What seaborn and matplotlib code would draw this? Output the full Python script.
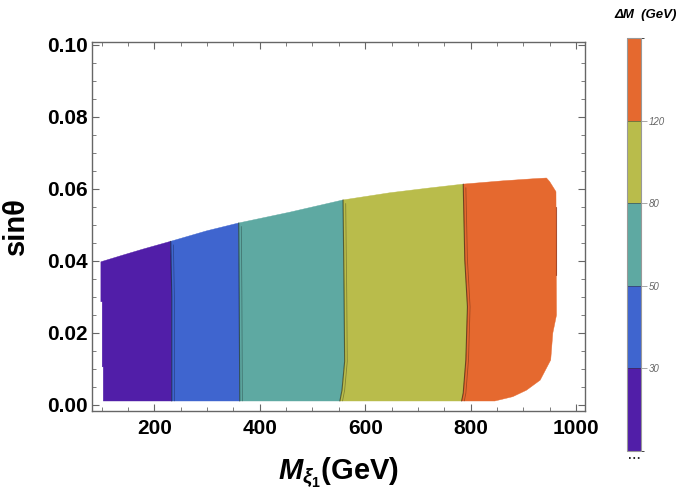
import seaborn as sns
import matplotlib.pyplot as plt
from matplotlib.colors import ListedColormap, BoundaryNorm
from matplotlib.cm import ScalarMappable
from matplotlib.ticker import MultipleLocator, FormatStrFormatter
from matplotlib.lines import Line2D

# contour levels of Delta M (GeV) and band colours
dm_ticks = [30, 50, 80, 120]
dm_levels = [0, 30, 50, 80, 120, 160]
band_colors = ['#511ea8', '#3f65cf', '#5ea9a2', '#b9bc4b', '#e5692f']

# outline of the allowed region
bottom_y = 0.001
left_x = [103, 103, 101, 101, 98.5, 98.5]
left_y = [0.001, 0.0105, 0.0105, 0.0286, 0.0286, 0.0397]
top_x = [98.5, 141, 180, 231, 299, 360, 457, 558, 647, 720, 786, 860, 920, 944]
top_y = [0.0397, 0.0416, 0.0433, 0.0454, 0.0483, 0.0505, 0.0535, 0.0569, 0.0589,
         0.0602, 0.0613, 0.0622, 0.0628, 0.0630]
right_x = [944, 950, 962, 963, 956, 952, 932, 906, 880, 846]
right_y = [0.0630, 0.0620, 0.0592, 0.0249, 0.0199, 0.0124, 0.0068, 0.0040, 0.0022, 0.001]

# contour lines between the bands (bottom -> top)
b30_x = [233, 233, 231]
b30_y = [0.001, 0.030, 0.0454]
b50_x = [362, 361, 360]
b50_y = [0.001, 0.030, 0.0505]
b80_x = [552, 556, 561, 560, 558]
b80_y = [0.001, 0.004, 0.012, 0.030, 0.0569]
b120_x = [783, 786, 791, 794, 789, 786]
b120_y = [0.001, 0.0032, 0.0124, 0.0272, 0.0402, 0.0613]

sns.set_style("ticks")
plt.rcParams['font.family'] = ['Liberation Sans', 'DejaVu Sans']
plt.rcParams['text.color'] = 'black'
plt.rcParams['axes.labelcolor'] = 'black'
plt.rcParams['xtick.labelcolor'] = 'black'
plt.rcParams['ytick.labelcolor'] = 'black'
plt.rcParams['mathtext.fontset'] = 'custom'
plt.rcParams['mathtext.rm'] = 'Liberation Sans:bold'
plt.rcParams['mathtext.it'] = 'Liberation Sans:italic:bold'
plt.rcParams['mathtext.bf'] = 'Liberation Sans:bold'


def band_polygon(lx, ly, rx, ry):
    # left edge up, along the top curve, right edge down
    lo, hi = lx[-1], rx[-1]
    tx = [x for x in top_x if lo < x < hi]
    ty = [y for x, y in zip(top_x, top_y) if lo < x < hi]
    return list(lx) + tx + list(rx[::-1]), list(ly) + ty + list(ry[::-1])


fig = plt.figure(figsize=(6.79, 4.94), dpi=100)
ax = fig.add_axes([0.135, 0.1686, 0.7265, 0.747])

edges = [(left_x, left_y), (b30_x, b30_y), (b50_x, b50_y), (b80_x, b80_y),
         (b120_x, b120_y), (right_x[::-1], right_y[::-1])]
for i, col in enumerate(band_colors):
    xs, ys = band_polygon(edges[i][0], edges[i][1], edges[i + 1][0], edges[i + 1][1])
    ax.fill(xs, ys, color=col, lw=0.3, ec=col)

# thin dark contour lines
for bx, by in edges[1:5]:
    sns.lineplot(x=bx, y=by, sort=False, estimator=None, color='k', lw=0.8, alpha=0.5, ax=ax)
    sns.lineplot(x=[v + 5 for v in bx], y=by[:-1] + [by[-1] - 0.001], sort=False,
                 estimator=None, color='k', lw=0.6, alpha=0.3, ax=ax)
sns.lineplot(x=[963, 963], y=[0.055, 0.036], sort=False, estimator=None,
             color='#8b2000', lw=0.8, alpha=0.7, ax=ax)

ax.set_xlim(81, 1017)
ax.set_ylim(-0.0017, 0.1009)
ax.xaxis.set_major_locator(MultipleLocator(200))
ax.xaxis.set_minor_locator(MultipleLocator(50))
ax.yaxis.set_major_locator(MultipleLocator(0.02))
ax.yaxis.set_minor_locator(MultipleLocator(0.005))
ax.yaxis.set_major_formatter(FormatStrFormatter('%.2f'))
ax.tick_params(which='both', direction='in', top=True, right=True, color='#666')
ax.tick_params(which='major', length=5, width=0.8, labelsize=15, labelcolor='black')
ax.tick_params(which='minor', length=3, width=0.6)
ax.tick_params(axis='x', pad=6)
ax.tick_params(axis='y', pad=3)
for lab in ax.get_xticklabels() + ax.get_yticklabels():
    lab.set_fontweight('bold')
for sp in ax.spines.values():
    sp.set_color('#666')
    sp.set_linewidth(1.0)

ax.set_xlabel(r'$M_{\xi_1}$(GeV)', fontsize=21, fontweight='bold', labelpad=13)
ax.set_ylabel('sinθ', fontsize=21, fontweight='bold', labelpad=12)

# legend bar
cax = fig.add_axes([0.9239, 0.087, 0.0197, 0.8354])
cmap = ListedColormap(band_colors)
norm = BoundaryNorm(dm_levels, cmap.N)
cb = fig.colorbar(ScalarMappable(norm=norm, cmap=cmap), cax=cax, ticks=dm_ticks,
                  spacing='uniform', drawedges=True)
cb.outline.set_edgecolor('#999')
cb.outline.set_linewidth(0.8)
cb.dividers.set_color('#333')
cb.dividers.set_linewidth(0.6)
cb.dividers.set_alpha(0.6)
cax.tick_params(labelsize=7, colors='#999', length=4, width=0.6, direction='out', pad=2)
for lab in cax.get_yticklabels():
    lab.set_fontstyle('italic')
    lab.set_color('#666')
fig.text(0.951, 0.969, 'ΔM  (GeV)', ha='center', va='center', fontsize=9.5,
         fontweight='bold', fontstyle='italic')
fig.add_artist(Line2D([0.926, 0.943], [0.072, 0.072], transform=fig.transFigure,
                      ls=':', color='k', lw=1.2))

fig.savefig('out.png', dpi=100)
